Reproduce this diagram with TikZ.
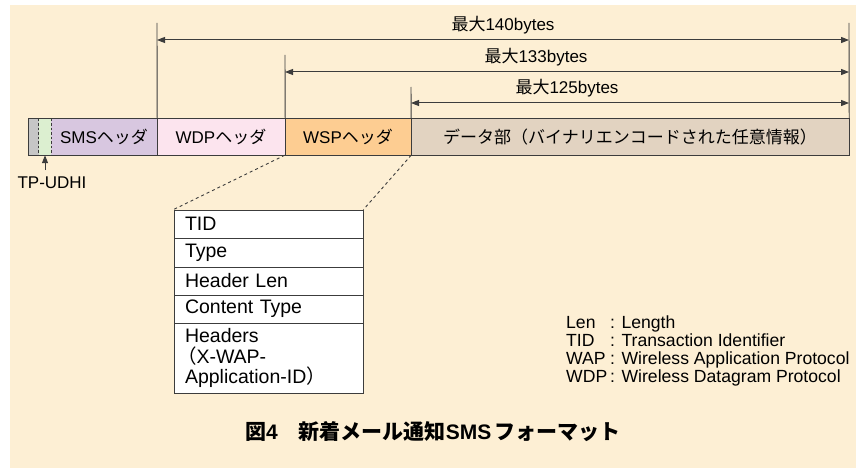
\documentclass[tikz,border=0pt]{standalone}
\usepackage{fontspec}
\setmainfont{Liberation Sans}
\newfontfamily\jp{Noto Sans CJK JP}
\usetikzlibrary{arrows.meta}
\definecolor{bgc}{HTML}{FDEFD4}
\definecolor{grayc}{HTML}{C6C6C6}
\definecolor{greenc}{HTML}{DCEFD0}
\definecolor{smsc}{HTML}{D8C7E0}
\definecolor{wdpc}{HTML}{FCE4EE}
\definecolor{wspc}{HTML}{FDCD92}
\definecolor{datac}{HTML}{E2D3C1}
\definecolor{linec}{HTML}{3C3C3C}
\tikzset{
  seg/.style={fill=#1, draw=none, inner sep=0pt, minimum height=36pt, font=\fontsize{17}{17}\selectfont},
  barline/.style={draw=linec, line width=1.1pt},
  dimarr/.style={draw=linec, line width=1pt, {Triangle[length=8pt,width=6pt]}-{Triangle[length=8pt,width=6pt]}},
  ext/.style={draw=linec, line width=0.9pt},
  lab/.style={inner sep=0pt, font=\fontsize{17}{17}\selectfont},
  rowbox/.style={draw=linec, line width=0.9pt, fill=white, minimum width=189pt, text width=167pt, align=left, inner xsep=11pt, inner ysep=0pt, font=\fontsize{19.5}{20.5}\selectfont},
  conn/.style={draw=linec, line width=0.9pt, dash pattern=on 3pt off 3pt},
}
\begin{document}
\begin{tikzpicture}[x=1pt,y=-1pt]
\useasboundingbox (0,0) rectangle (856,468);
\fill[bgc] (10,5) rectangle (856,468);
% bar segments
\node[seg=grayc, minimum width=10pt] (gr) at (34,137) {};
\node[seg=greenc, minimum width=12pt] (gn) at (45,137) {};
\node[seg=smsc, minimum width=106pt] (sms) at (104,137) {SMS{\jp ヘッダ}};
\node[seg=wdpc, minimum width=128pt] (wdp) at (221,137) {WDP{\jp ヘッダ}};
\node[seg=wspc, minimum width=126pt] (wsp) at (348,137) {WSP{\jp ヘッダ}};
\node[seg=datac, minimum width=438pt] (dat) at (630,137) {{\jp データ部（バイナリエンコードされた任意情報）}};
% bar outline and separators
\draw[barline] (gr.north west) rectangle (dat.south east);
\draw[barline] (sms.north east) -- (sms.south east);
\draw[barline] (wdp.north east) -- (wdp.south east);
\draw[barline] (wsp.north east) -- (wsp.south east);
\draw[draw=linec, line width=0.8pt, dash pattern=on 2.5pt off 2pt] (gn.north west) -- (gn.south west);
\draw[draw=linec, line width=0.8pt, dash pattern=on 2.5pt off 2pt] (gn.north east) -- (gn.south east);
% extension lines
\coordinate (e1) at (157,23);
\coordinate (e2) at (285,55);
\coordinate (e3) at (411,87);
\coordinate (e4) at (849,23);
\draw[ext] (e1) -- (sms.north east);
\draw[ext] (e2) -- (wdp.north east);
\draw[ext] (e3) -- (wsp.north east);
\draw[ext] (e4) -- (dat.north east);
% dimension arrows
\coordinate (a1l) at (157,40); \coordinate (a1r) at (849,40);
\coordinate (a2l) at (285,72); \coordinate (a2r) at (849,72);
\coordinate (a3l) at (411,103); \coordinate (a3r) at (849,103);
\draw[dimarr] (a1l) -- (a1r);
\draw[dimarr] (a2l) -- (a2r);
\draw[dimarr] (a3l) -- (a3r);
\node[lab] (l1) at (503,25) {{\jp 最大}140bytes};
\node[lab] (l2) at (536,57) {{\jp 最大}133bytes};
\node[lab] (l3) at (567,88) {{\jp 最大}125bytes};
% TP-UDHI
\node[lab] (tp) at (52,183) {TP-UDHI};
\coordinate (tpa) at (45,170);
\draw[draw=linec, line width=1pt, -{Triangle[length=8pt,width=6pt]}] (tpa) -- (gn.south);
% table
\node[rowbox, minimum height=28pt] (r1) at (268.5,224) {TID};
\node[rowbox, minimum height=29pt] (r2) at (268.5,252.5) {Type};
\node[rowbox, minimum height=28pt] (r3) at (268.5,281) {Header Len};
\node[rowbox, minimum height=28pt] (r4) at (268.5,309) {Content Type};
\node[rowbox, minimum height=70pt] (r5) at (268.5,358) {Headers\\\hspace*{-8pt}{\jp （}X-WAP-\\Application-ID{\jp ）}};
\draw[conn] (wsp.south west) -- (r1.north west);
\draw[conn] (wsp.south east) -- (r1.north east);
% legend
\node[inner sep=0pt, anchor=north west, font=\fontsize{17.6}{17.2}\selectfont] (leg) at (566,316) {%
\begin{tabular}{@{}l@{\,}l@{}}
Len & : Length\\
TID & : Transaction Identifier\\
WAP & : Wireless Application Protocol\\
WDP & : Wireless Datagram Protocol
\end{tabular}};
% caption
\node[inner sep=0pt, font=\fontsize{21}{21}\selectfont\bfseries] (cap) at (433,432) {{\jp 図}4{\jp 　新着メール通知}SMS\,{\jp フォーマット}};
\end{tikzpicture}
\end{document}
